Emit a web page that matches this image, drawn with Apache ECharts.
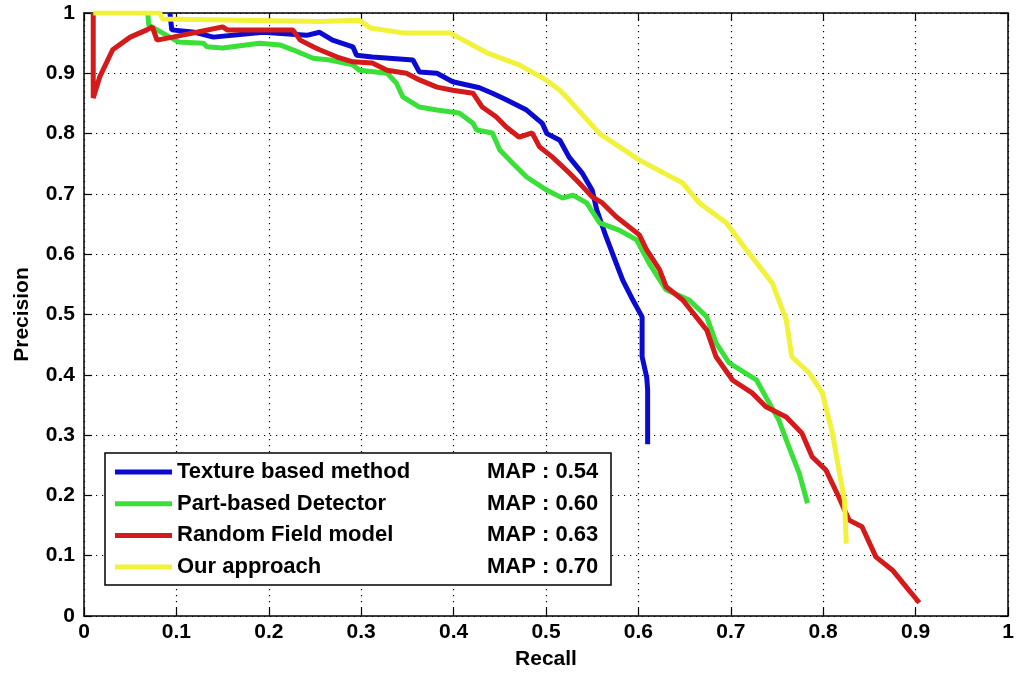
<!DOCTYPE html>
<html>
<head>
<meta charset="utf-8">
<script src="https://cdn.jsdelivr.net/npm/echarts@6/dist/echarts.min.js"></script>
<style>html,body{margin:0;padding:0;background:#fff}#c{width:1022px;height:677px}</style>
</head>
<body>
<div id="c"></div>
<script>
var seriesNames = ['Texture based method', 'Part-based Detector', 'Random Field model', 'Our approach'];
var mapScores = ['MAP : 0.54', 'MAP : 0.60', 'MAP : 0.63', 'MAP : 0.70'];
var xTickLabels = ['0','0.1','0.2','0.3','0.4','0.5','0.6','0.7','0.8','0.9','1'];
var yTickLabels = ['0','0.1','0.2','0.3','0.4','0.5','0.6','0.7','0.8','0.9','1'];

var textureRecall = [0.093,0.095,0.12,0.14,0.194,0.241,0.255,0.269,0.291,0.295,0.312,0.356,0.363,0.382,0.399,0.428,0.442,0.457,0.479,0.496,0.501,0.515,0.525,0.539,0.55,0.555,0.565,0.576,0.583,0.594,0.604,0.604,0.609,0.61,0.61];
var texturePrecision = [1.0,0.972,0.968,0.96,0.968,0.963,0.968,0.955,0.944,0.93,0.927,0.922,0.902,0.9,0.886,0.876,0.867,0.856,0.839,0.817,0.8,0.789,0.761,0.735,0.706,0.673,0.629,0.585,0.557,0.524,0.496,0.43,0.396,0.375,0.285];

var partRecall = [0.069,0.07,0.102,0.129,0.133,0.15,0.19,0.212,0.226,0.248,0.266,0.291,0.298,0.328,0.338,0.345,0.363,0.382,0.406,0.421,0.425,0.442,0.45,0.464,0.479,0.501,0.518,0.529,0.544,0.558,0.579,0.598,0.612,0.63,0.655,0.674,0.684,0.698,0.728,0.738,0.752,0.763,0.774,0.783];
var partPrecision = [1.0,0.98,0.952,0.95,0.944,0.942,0.95,0.947,0.939,0.925,0.922,0.914,0.905,0.9,0.884,0.861,0.844,0.839,0.834,0.817,0.806,0.801,0.773,0.751,0.728,0.706,0.693,0.698,0.685,0.652,0.64,0.624,0.584,0.541,0.524,0.496,0.453,0.42,0.391,0.363,0.325,0.28,0.237,0.187];

var randomRecall = [0.01,0.01,0.017,0.031,0.05,0.068,0.074,0.079,0.096,0.122,0.15,0.155,0.226,0.234,0.248,0.255,0.274,0.291,0.312,0.328,0.349,0.363,0.382,0.399,0.421,0.431,0.446,0.457,0.471,0.485,0.493,0.507,0.525,0.536,0.55,0.561,0.576,0.601,0.609,0.623,0.63,0.648,0.674,0.684,0.702,0.723,0.738,0.76,0.777,0.788,0.803,0.817,0.828,0.842,0.857,0.875,0.89,0.904];
var randomPrecision = [1.0,0.859,0.894,0.939,0.96,0.972,0.977,0.955,0.96,0.968,0.977,0.972,0.972,0.955,0.944,0.939,0.927,0.919,0.917,0.905,0.9,0.889,0.877,0.872,0.867,0.844,0.828,0.811,0.794,0.801,0.778,0.761,0.735,0.718,0.695,0.685,0.662,0.632,0.607,0.574,0.546,0.524,0.474,0.43,0.391,0.37,0.347,0.33,0.303,0.264,0.242,0.197,0.159,0.148,0.098,0.076,0.048,0.022];

var oursRecall = [0.01,0.082,0.085,0.255,0.298,0.31,0.345,0.396,0.436,0.471,0.5,0.515,0.525,0.558,0.601,0.648,0.666,0.695,0.717,0.745,0.76,0.766,0.785,0.799,0.81,0.817,0.823,0.825];
var oursPrecision = [1.0,1.0,0.99,0.986,0.988,0.975,0.967,0.967,0.934,0.914,0.889,0.872,0.856,0.8,0.756,0.718,0.685,0.652,0.607,0.552,0.491,0.43,0.403,0.37,0.303,0.242,0.192,0.12];

var colors = ['#0a0ad0', '#38e038', '#d41a1a', '#f2f23a'];

function pairs(xs, ys){ return xs.map(function(x,i){ return [x, ys[i]]; }); }
var dataSets = [
  pairs(textureRecall, texturePrecision),
  pairs(partRecall, partPrecision),
  pairs(randomRecall, randomPrecision),
  pairs(oursRecall, oursPrecision)
];

var FONT = '"Liberation Sans", Arial, sans-serif';
var chart = echarts.init(document.getElementById('c'));
var gridLine = { show: true, lineStyle: { color: '#000', width: 1.2, type: [1.2, 4.8] } };
var tickInside = { show: true, inside: true, length: 8, lineStyle: { color: '#000', width: 1.2 } };
var axisLineBlack = { show: true, onZero: false, lineStyle: { color: '#000', width: 1.5 } };
var labelStyle = { color: '#000', fontSize: 21, fontFamily: FONT, fontWeight: 'bold' };
var nameStyle = { color: '#000', fontSize: 21, fontFamily: FONT, fontWeight: 'bold' };

chart.setOption({
  animation: false,
  backgroundColor: '#fff',
  grid: { left: 84, right: 14, top: 13, bottom: 61, containLabel: false, outerBoundsMode: 'none' },
  xAxis: [{
    type: 'value', min: 0, max: 1, interval: 0.1, position: 'bottom',
    name: 'Recall', nameLocation: 'middle', nameGap: 33,
    nameTextStyle: nameStyle,
    axisLine: axisLineBlack, axisTick: tickInside, splitLine: gridLine,
    axisLabel: Object.assign({ margin: 6, formatter: function(v){ return xTickLabels[Math.round(v*10)]; } }, labelStyle)
  }, {
    type: 'value', min: 0, max: 1, interval: 0.1, position: 'top',
    axisLine: axisLineBlack, axisTick: tickInside, splitLine: { show: false }, axisLabel: { show: false }
  }],
  yAxis: [{
    type: 'value', min: 0, max: 1, interval: 0.1, position: 'left',
    name: 'Precision', nameLocation: 'middle', nameGap: 51,
    nameTextStyle: nameStyle,
    axisLine: axisLineBlack, axisTick: tickInside, splitLine: gridLine,
    axisLabel: Object.assign({ margin: 9, formatter: function(v){ return yTickLabels[Math.round(v*10)]; } }, labelStyle)
  }, {
    type: 'value', min: 0, max: 1, interval: 0.1, position: 'right',
    axisLine: axisLineBlack, axisTick: tickInside, splitLine: { show: false }, axisLabel: { show: false }
  }],
  legend: {
    orient: 'vertical', left: 105, top: 453,
    padding: [8, 10, 7, 10], itemGap: 9.7,
    itemWidth: 57, itemHeight: 5, icon: 'rect',
    backgroundColor: '#fff', borderColor: '#000', borderWidth: 1.5, borderRadius: 0,
    data: seriesNames,
    formatter: function(name){ var i = seriesNames.indexOf(name); return '{a|' + name + '}{b|' + mapScores[i] + '}'; },
    textStyle: {
      color: '#000', fontSize: 22, fontFamily: FONT, fontWeight: 'bold', lineHeight: 22,
      rich: {
        a: { width: 310, fontSize: 22, fontFamily: FONT, fontWeight: 'bold', color: '#000', lineHeight: 22 },
        b: { width: 114, fontSize: 22, fontFamily: FONT, fontWeight: 'bold', color: '#000', lineHeight: 22 }
      }
    }
  },
  series: dataSets.map(function(d, i){
    return {
      name: seriesNames[i], type: 'line', data: d, xAxisIndex: 0, yAxisIndex: 0,
      showSymbol: false, symbol: 'none', smooth: false, z: 2 + i,
      itemStyle: { color: colors[i] },
      lineStyle: { color: colors[i], width: 5 }
    };
  })
});
</script>
</body>
</html>
